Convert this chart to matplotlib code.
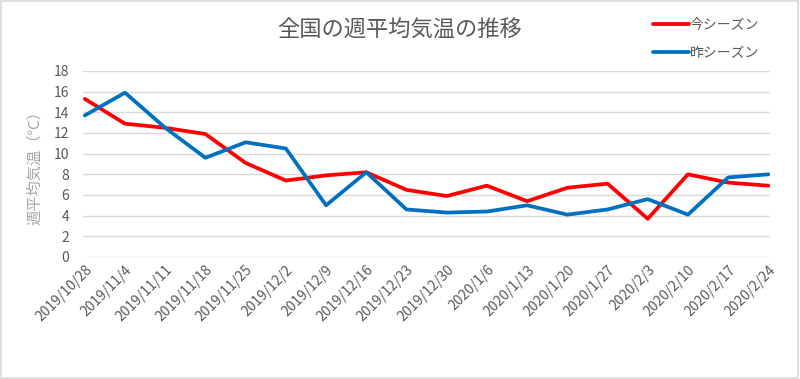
import matplotlib
matplotlib.use("Agg")
import matplotlib.pyplot as plt
from matplotlib.patches import Rectangle

plt.rcParams['font.family'] = ['Noto Sans CJK JP', 'DejaVu Sans']

dates = ["2019/10/28", "2019/11/4", "2019/11/11", "2019/11/18", "2019/11/25",
         "2019/12/2", "2019/12/9", "2019/12/16", "2019/12/23", "2019/12/30",
         "2020/1/6", "2020/1/13", "2020/1/20", "2020/1/27", "2020/2/3",
         "2020/2/10", "2020/2/17", "2020/2/24"]
this_season = [15.3, 12.9, 12.5, 11.9, 9.1, 7.4, 7.9, 8.2, 6.5, 5.9,
               6.9, 5.4, 6.7, 7.1, 3.7, 8.0, 7.2, 6.9]
last_season = [13.7, 15.9, 12.5, 9.6, 11.1, 10.5, 5.0, 8.2, 4.6, 4.3,
               4.4, 5.0, 4.1, 4.6, 5.6, 4.1, 7.7, 8.0]

grey = "#595959"
x = range(len(dates))

fig = plt.figure(figsize=(8, 3.79), dpi=100)
ax = fig.add_axes([0.104, 0.3219, 0.859, 0.4908])

ax.plot(x, this_season, color="#FF0000", lw=2.7, label="今シーズン", solid_capstyle="round")
ax.plot(x, last_season, color="#0070C0", lw=2.7, label="昨シーズン", solid_capstyle="round")

ax.set_ylim(0, 18)
ax.set_yticks(range(0, 19, 2))
ax.set_xlim(-0.04, len(dates) - 1 + 0.05)
ax.set_xticks(list(x))
ax.set_xticklabels(dates, rotation=45, ha="right", rotation_mode="anchor")
ax.grid(axis="y", color="#d9d9d9", lw=1)
ax.set_axisbelow(True)
for s in ax.spines.values():
    s.set_visible(False)
ax.tick_params(axis="both", length=0, colors=grey, labelsize=10)
ax.tick_params(axis="y", pad=10)
ax.tick_params(axis="x", pad=4)

ax.set_ylabel("週平均気温（℃）", color="#a6a6a6", fontsize=11, labelpad=8)
fig.text(0.5, 0.92, "全国の週平均気温の推移", ha="center", va="center",
         fontsize=16, color=grey)

leg = fig.legend(loc="upper left", bbox_to_anchor=(0.8, 0.985), frameon=False,
                 handlelength=2.6, handletextpad=0.1, labelspacing=1.0, fontsize=10)
for t in leg.get_texts():
    t.set_color(grey)

fig.patches.append(Rectangle((0.001, 0.002), 0.997, 0.995, transform=fig.transFigure,
                             fill=False, edgecolor="#d9d9d9", lw=1.2))

fig.savefig("out.png", dpi=100, facecolor="white")
